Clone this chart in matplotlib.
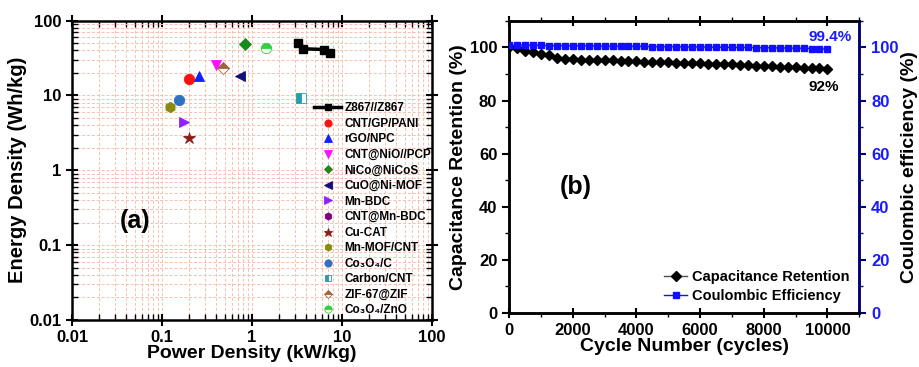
import matplotlib
matplotlib.use("Agg")
import matplotlib.pyplot as plt
from matplotlib.ticker import LogLocator, FuncFormatter, MultipleLocator, NullFormatter

plt.rcParams['font.family'] = ['Liberation Sans', 'DejaVu Sans']
plt.rcParams['font.weight'] = 'bold'

# ---- (a) Ragone plot data ----
z867_power = [3.2, 3.7, 6.3, 7.4]
z867_energy = [50, 42, 41, 37]

ref_labels = ['CNT/GP/PANI', 'rGO/NPC', 'CNT@NiO//PCP', 'NiCo@NiCoS', 'CuO@Ni-MOF',
              'Mn-BDC', 'CNT@Mn-BDC', 'Cu-CAT', 'Mn-MOF/CNT', 'Co₃O₄/C',
              'Carbon/CNT', 'ZIF-67@ZIF', 'Co₃O₄/ZnO']
ref_power = [[0.20], [0.256], [0.40], [0.84], [0.74],
             [0.175], [], [0.20], [0.124], [0.156],
             [3.47], [0.48], [1.41]]
ref_energy = [[16.5], [18.3], [25.4], [48.9], [18.3],
              [4.4], [], [2.67], [6.9], [8.8],
              [9.1], [23.6], [43.6]]

# ---- (b) cycling data ----
cycles = list(range(0, 10001, 250))
retention = [100, 99.7, 98.7, 98.3, 97.5, 97.0, 96.2, 95.8, 95.5, 95.4,
             95.3, 95.3, 95.2, 95.1, 95.0, 94.9, 94.8, 94.7, 94.6, 94.5,
             94.4, 94.3, 94.2, 94.1, 94.0, 93.9, 93.8, 93.7, 93.6, 93.5,
             93.3, 93.2, 93.0, 92.9, 92.7, 92.6, 92.5, 92.4, 92.2, 92.1, 91.9]
coulombic = [100.9, 100.9, 100.9, 100.8, 100.8, 100.7, 100.7, 100.7, 100.6, 100.6,
             100.6, 100.5, 100.5, 100.5, 100.5, 100.4, 100.4, 100.4, 100.3, 100.3,
             100.3, 100.3, 100.2, 100.2, 100.2, 100.1, 100.1, 100.1, 100.0, 100.0,
             100.0, 99.9, 99.9, 99.9, 99.8, 99.8, 99.7, 99.7, 99.6, 99.5, 99.4]

styles = [
    dict(marker='o', color='#ff1010'),
    dict(marker='^', color='#1020ff'),
    dict(marker='v', color='#ff10ff'),
    dict(marker='D', color='#1a8a1a', markersize=6.5),
    dict(marker='<', color='#10107a'),
    dict(marker='>', color='#9020ff'),
    dict(marker='h', color='#800080'),
    dict(marker='*', color='#8b1a1a', markersize=9),
    dict(marker='h', color='#8a8a10'),
    dict(marker='o', color='#3070c0'),
    dict(marker='s', color='#20a0a8', fillstyle='left', markersize=6.5),
    dict(marker='D', color='#a0643c', fillstyle='top', markersize=6.5),
    dict(marker='o', color='#30d040', fillstyle='top'),
]

fig = plt.figure(figsize=(9.19, 3.67), dpi=100)
ax1 = fig.add_axes([0.0783, 0.128, 0.392, 0.816])
ax2 = fig.add_axes([0.554, 0.147, 0.381, 0.796])

# ---------------- panel (a) ----------------
ax1.set_xscale('log')
ax1.set_yscale('log')
ax1.set_xlim(0.01, 100)
ax1.set_ylim(0.01, 100)
ax1.grid(True, which='both', ls='--', color='#f4c0b0', lw=0.7, dashes=(3, 2))
ax1.set_axisbelow(True)

ax1.plot(z867_power, z867_energy, '-s', color='black', lw=2.5, markersize=6,
         label='Z867//Z867', zorder=3)
for lab, px, py, st in zip(ref_labels, ref_power, ref_energy, styles):
    kw = dict(markersize=7.5, markeredgewidth=0.6)
    kw.update(st)
    if 'fillstyle' in kw:
        kw['markerfacecoloralt'] = 'white'
    ax1.plot(px, py, ls='none', label=lab, zorder=3, **kw)

fmt = FuncFormatter(lambda v, p: '%g' % v)
for axis in (ax1.xaxis, ax1.yaxis):
    axis.set_major_locator(LogLocator(base=10, numticks=10))
    axis.set_minor_locator(LogLocator(base=10, subs=range(2, 10), numticks=20))
    axis.set_major_formatter(fmt)
    axis.set_minor_formatter(NullFormatter())
ax1.tick_params(which='major', direction='inout', length=8, width=1.5, labelsize=12,
                top=True, right=True)
ax1.tick_params(which='minor', direction='in', length=4, width=1, top=True, right=True)
ax1.set_xlabel('Power Density (kW/kg)', fontsize=14, fontweight='bold', labelpad=0)
ax1.set_ylabel('Energy Density (Wh/kg)', fontsize=14.5, fontweight='bold', labelpad=2)
for s in ax1.spines.values():
    s.set_linewidth(1.8)
ax1.text(0.175, 0.33, '(a)', transform=ax1.transAxes, fontsize=18,
         fontweight='bold', ha='center', va='center')
ax1.legend(loc='upper left', bbox_to_anchor=(0.672, 0.727), frameon=False,
           fontsize=8.5, numpoints=1, handlelength=2.3, handletextpad=0.3,
           labelspacing=0.3, borderpad=0, borderaxespad=0, markerscale=0.7)

# ---------------- panel (b) ----------------
ax2.plot(cycles, retention, '-D', color='#505050', lw=1, markersize=5.5,
         markerfacecolor='black', markeredgecolor='black', label='Capacitance Retention', zorder=3)
ax3 = ax2.twinx()
ax3.set_position([0.554, 0.147, 0.381, 0.796])
ax3.plot(cycles, coulombic, '-s', color='#1010ff', lw=1, markersize=5,
         label='Coulombic Efficiency', zorder=3)

for a in (ax2, ax3):
    a.set_ylim(0, 110)
    a.yaxis.set_major_locator(MultipleLocator(20))
    a.yaxis.set_minor_locator(MultipleLocator(10))
ax2.set_xlim(0, 11000)
ax2.xaxis.set_major_locator(MultipleLocator(2000))
ax2.xaxis.set_minor_locator(MultipleLocator(1000))
ax2.tick_params(which='major', direction='out', length=5, width=1.5, labelsize=12, top=True)
ax2.tick_params(axis='x', which='major', direction='inout', length=7)
ax2.tick_params(which='minor', direction='out', length=3, width=1, top=True)
ax2.tick_params(axis='x', which='both', top=True)
ax3.tick_params(which='major', direction='out', length=5, width=1.5, labelsize=12,
                colors='#000080', labelcolor='#1a1aff')
ax3.tick_params(which='minor', direction='out', length=3, width=1, colors='#000080')
for s in ax2.spines.values():
    s.set_linewidth(1.8)
for s in ax3.spines.values():
    s.set_linewidth(1.8)
ax3.spines['right'].set_color('#000080')

ax2.set_xlabel('Cycle Number (cycles)', fontsize=14, fontweight='bold', labelpad=0)
ax2.set_ylabel('Capacitance Retention (%)', fontsize=14, fontweight='bold', labelpad=2)
ax3.set_ylabel('Coulombic efficiency (%)', fontsize=14, fontweight='bold', labelpad=2)

ax2.text(0.19, 0.43, '(b)', transform=ax2.transAxes, fontsize=18,
         fontweight='bold', ha='center', va='center')
ax3.annotate('99.4%', xy=(cycles[-1], coulombic[-1]), xytext=(2, 9),
             textcoords='offset points', color='#1a1aff', fontsize=11,
             fontweight='bold', ha='center', va='center')
ax2.annotate('92%', xy=(cycles[-1], retention[-1]), xytext=(-3, -13),
             textcoords='offset points', color='black', fontsize=11,
             fontweight='bold', ha='center', va='center')

h1, l1 = ax2.get_legend_handles_labels()
h2, l2 = ax3.get_legend_handles_labels()
ax3.legend(h1 + h2, l1 + l2, loc='lower right', frameon=False, fontsize=10.5,
           handlelength=1.6, handletextpad=0.3, labelspacing=0.35,
           borderaxespad=0.6, borderpad=0.1, numpoints=1)

fig.savefig('out.png', dpi=100)
